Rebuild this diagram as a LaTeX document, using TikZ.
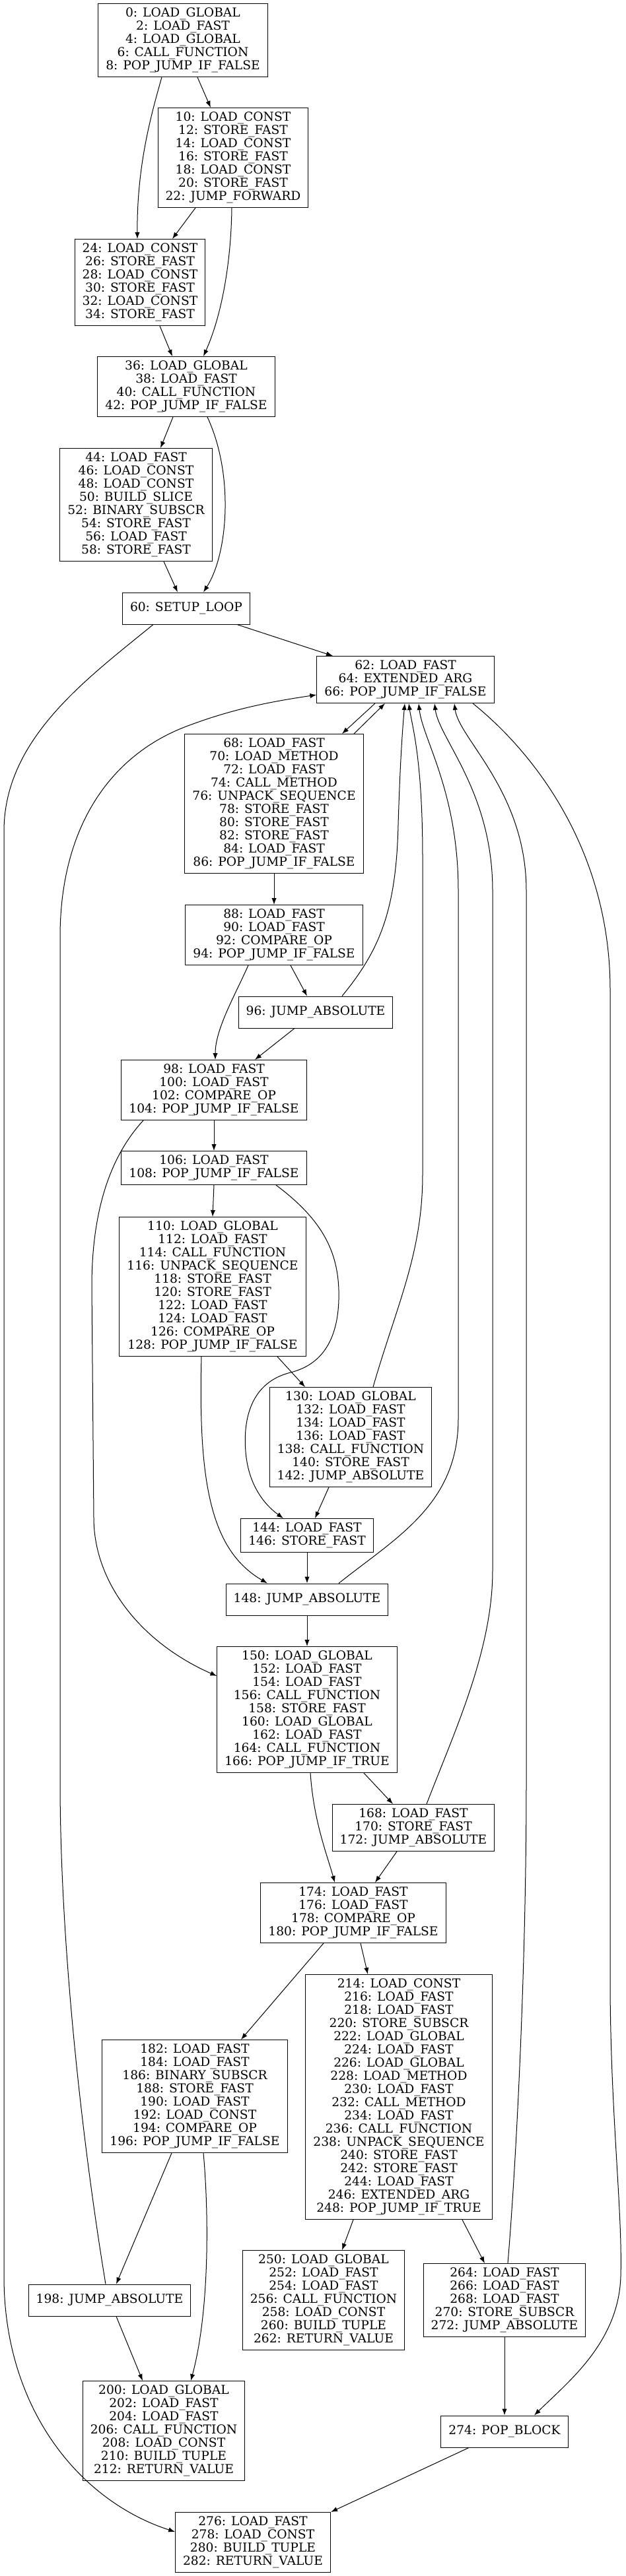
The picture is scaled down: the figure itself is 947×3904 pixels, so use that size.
\documentclass[tikz,border=0pt]{standalone}
\usepackage{fontspec}
\setmainfont{DejaVu Serif}
\usetikzlibrary{arrows.meta,calc}

\begin{document}
\begin{tikzpicture}
		[
		x=0.75pt, y=-0.75pt, line width=0.75pt, font=\fontsize{14}{15}\selectfont, >={Latex[length=7.5pt,width=5.5pt]},
		%Voreinstellung fuer Bloecke
		blk/.style={draw, align=center, inner xsep=8.6pt, inner ysep=2pt, minimum height=36pt},
		nl/.style={minimum height={#1*15pt+8.25pt}}
		]
		
		\useasboundingbox (0,0) rectangle (947,3904);
		
		%Bloecke
		\node [blk, nl=5] (n0) at (277,61) {0: LOAD\_GLOBAL\\2: LOAD\_FAST\\4: LOAD\_GLOBAL\\6: CALL\_FUNCTION\\8: POP\_JUMP\_IF\_FALSE};
		\node [blk, nl=7] (n10) at (353,239) {10: LOAD\_CONST\\12: STORE\_FAST\\14: LOAD\_CONST\\16: STORE\_FAST\\18: LOAD\_CONST\\20: STORE\_FAST\\22: JUMP\_FORWARD};
		\node [blk, nl=6] (n24) at (212,428) {24: LOAD\_CONST\\26: STORE\_FAST\\28: LOAD\_CONST\\30: STORE\_FAST\\32: LOAD\_CONST\\34: STORE\_FAST};
		\node [blk, nl=4] (n36) at (282,586) {36: LOAD\_GLOBAL\\38: LOAD\_FAST\\40: CALL\_FUNCTION\\42: POP\_JUMP\_IF\_FALSE};
		\node [blk, nl=8] (n44) at (206,765) {44: LOAD\_FAST\\46: LOAD\_CONST\\48: LOAD\_CONST\\50: BUILD\_SLICE\\52: BINARY\_SUBSCR\\54: STORE\_FAST\\56: LOAD\_FAST\\58: STORE\_FAST};
		\node [blk] (n60) at (282,922) {60: SETUP\_LOOP};
		\node [blk, nl=3] (n62) at (614,1030) {62: LOAD\_FAST\\64: EXTENDED\_ARG\\66: POP\_JUMP\_IF\_FALSE};
		\node [blk, nl=10] (n68) at (415,1218) {68: LOAD\_FAST\\70: LOAD\_METHOD\\72: LOAD\_FAST\\74: CALL\_METHOD\\76: UNPACK\_SEQUENCE\\78: STORE\_FAST\\80: STORE\_FAST\\82: STORE\_FAST\\84: LOAD\_FAST\\86: POP\_JUMP\_IF\_FALSE};
		\node [blk, nl=4] (n88) at (415,1417) {88: LOAD\_FAST\\90: LOAD\_FAST\\92: COMPARE\_OP\\94: POP\_JUMP\_IF\_FALSE};
		\node [blk] (n96) at (478,1534) {96: JUMP\_ABSOLUTE};
		\node [blk, nl=4] (n98) at (324,1652) {98: LOAD\_FAST\\100: LOAD\_FAST\\102: COMPARE\_OP\\104: POP\_JUMP\_IF\_FALSE};
		\node [blk, nl=2] (n106) at (324,1770) {106: LOAD\_FAST\\108: POP\_JUMP\_IF\_FALSE};
		\node [blk, nl=10] (n110) at (322,1950) {110: LOAD\_GLOBAL\\112: LOAD\_FAST\\114: CALL\_FUNCTION\\116: UNPACK\_SEQUENCE\\118: STORE\_FAST\\120: STORE\_FAST\\122: LOAD\_FAST\\124: LOAD\_FAST\\126: COMPARE\_OP\\128: POP\_JUMP\_IF\_FALSE};
		\node [blk, nl=7] (n130) at (531,2178) {130: LOAD\_GLOBAL\\132: LOAD\_FAST\\134: LOAD\_FAST\\136: LOAD\_FAST\\138: CALL\_FUNCTION\\140: STORE\_FAST\\142: JUMP\_ABSOLUTE};
		\node [blk, nl=2] (n144) at (465,2327) {144: LOAD\_FAST\\146: STORE\_FAST};
		\node [blk] (n148) at (465,2424) {148: JUMP\_ABSOLUTE};
		\node [blk, nl=9] (n150) at (465,2591) {150: LOAD\_GLOBAL\\152: LOAD\_FAST\\154: LOAD\_FAST\\156: CALL\_FUNCTION\\158: STORE\_FAST\\160: LOAD\_GLOBAL\\162: LOAD\_FAST\\164: CALL\_FUNCTION\\166: POP\_JUMP\_IF\_TRUE};
		\node [blk, nl=3] (n168) at (626,2770) {168: LOAD\_FAST\\170: STORE\_FAST\\172: JUMP\_ABSOLUTE};
		\node [blk, nl=4] (n174) at (535,2899) {174: LOAD\_FAST\\176: LOAD\_FAST\\178: COMPARE\_OP\\180: POP\_JUMP\_IF\_FALSE};
		\node [blk, nl=8] (n182) at (295,3177) {182: LOAD\_FAST\\184: LOAD\_FAST\\186: BINARY\_SUBSCR\\188: STORE\_FAST\\190: LOAD\_FAST\\192: LOAD\_CONST\\194: COMPARE\_OP\\196: POP\_JUMP\_IF\_FALSE};
		\node [blk, nl=18] (n214) at (604,3178) {214: LOAD\_CONST\\216: LOAD\_FAST\\218: LOAD\_FAST\\220: STORE\_SUBSCR\\222: LOAD\_GLOBAL\\224: LOAD\_FAST\\226: LOAD\_GLOBAL\\228: LOAD\_METHOD\\230: LOAD\_FAST\\232: CALL\_METHOD\\234: LOAD\_FAST\\236: CALL\_FUNCTION\\238: UNPACK\_SEQUENCE\\240: STORE\_FAST\\242: STORE\_FAST\\244: LOAD\_FAST\\246: EXTENDED\_ARG\\248: POP\_JUMP\_IF\_TRUE};
		\node [blk] (n198) at (166,3486) {198: JUMP\_ABSOLUTE};
		\node [blk, nl=7] (n250) at (490,3486) {250: LOAD\_GLOBAL\\252: LOAD\_FAST\\254: LOAD\_FAST\\256: CALL\_FUNCTION\\258: LOAD\_CONST\\260: BUILD\_TUPLE\\262: RETURN\_VALUE};
		\node [blk, nl=5] (n264) at (764,3486) {264: LOAD\_FAST\\266: LOAD\_FAST\\268: LOAD\_FAST\\270: STORE\_SUBSCR\\272: JUMP\_ABSOLUTE};
		\node [blk, nl=7] (n200) at (248,3684) {200: LOAD\_GLOBAL\\202: LOAD\_FAST\\204: LOAD\_FAST\\206: CALL\_FUNCTION\\208: LOAD\_CONST\\210: BUILD\_TUPLE\\212: RETURN\_VALUE};
		\node [blk] (n274) at (764,3685) {274: POP\_BLOCK};
		\node [blk, nl=4] (n276) at (383,3853) {276: LOAD\_FAST\\278: LOAD\_CONST\\280: BUILD\_TUPLE\\282: RETURN\_VALUE};
		
		%Kanten nach unten
		\draw [->] ($(n0.south)+(22,0)$) -- ($(n10.north)+(-34,0)$);
		\draw [->] ($(n0.south)+(-32,0)$) .. controls (230,170) and (207,250) .. ($(n24.north)+(-4,0)$);
		\draw [->] ($(n10.south)+(-57,0)$) -- ($(n24.north)+(49,0)$);
		\draw [->] ($(n10.south)+(-2,0)$) .. controls (350,400) and (335,480) .. ($(n36.north)+(26,0)$);
		\draw [->] ($(n24.south)+(30,0)$) -- ($(n36.north)+(-21,0)$);
		\draw [->] ($(n36.south)+(-20,0)$) -- ($(n44.north)+(37,0)$);
		\draw [->] ($(n36.south)+(32,0)$) .. controls (355,720) and (345,840) .. ($(n60.north)+(26,0)$);
		\draw [->] ($(n44.south)+(42,0)$) -- ($(n60.north)+(-13,0)$);
		\draw [->] ($(n60.south)+(77,0)$) -- ($(n62.north)+(-110,0)$);
		\draw [->] ($(n60.south)+(-50,0)$) .. controls (130,1030) and (6,1120) .. (6,1260) -- (6,3450) .. controls (6,3650) and (120,3790) .. ($(n276.west)+(0,-16)$);
		\draw [->] ($(n62.south)+(-46,0)$) -- ($(n68.north)+(103,0)$);
		\draw [->] (n68) -- (n88);
		\draw [->] ($(n88.south)+(25,0)$) -- ($(n96.north)+(-13,0)$);
		\draw [->] ($(n88.south)+(-39,0)$) .. controls (355,1510) and (326,1560) .. ($(n98.north)+(2,0)$);
		\draw [->] ($(n96.south)+(-32,0)$) -- ($(n98.north)+(62,0)$);
		\draw [->] (n98) -- (n106);
		\draw [->] ($(n98.south)+(-107,0)$) .. controls (160,1760) and (139,1850) .. (139,1950) -- (142,2300) .. controls (142,2400) and (215,2490) .. ($(n150.west)+(0,-51)$);
		\draw [->] (n106.south) -- (n110.north);
		\draw [->] ($(n106.south)+(94,0)$) .. controls (490,1850) and (515,1900) .. (513,1970) .. controls (511,2040) and (480,2070) .. (440,2080) .. controls (380,2095) and (368,2150) .. (372,2200) .. controls (376,2250) and (400,2280) .. ($(n144.north)+(-36,0)$);
		\draw [->] ($(n110.south)+(98,0)$) -- ($(n130.north)+(-69,0)$);
		\draw [->] ($(n110.south)+(-17,0)$) .. controls (300,2250) and (320,2350) .. ($(n148.north)+(-60,0)$);
		\draw [->] ($(n130.south)+(-33,0)$) -- ($(n144.north)+(12,0)$);
		\draw [->] (n144) -- (n148);
		\draw [->] (n148) -- (n150);
		\draw [->] ($(n150.south)+(86,0)$) -- ($(n168.north)+(-31,0)$);
		\draw [->] ($(n150.south)+(5,0)$) .. controls (475,2760) and (495,2810) .. ($(n174.north)+(-28,0)$);
		\draw [->] ($(n168.south)+(-25,0)$) -- ($(n174.north)+(33,0)$);
		\draw [->] ($(n174.south)+(-45,0)$) -- ($(n182.north)+(70,0)$);
		\draw [->] ($(n174.south)+(11,0)$) -- ($(n214.north)+(-47,0)$);
		\draw [->] ($(n182.south)+(-35,0)$) -- ($(n198.north)+(10,0)$);
		\draw [->] ($(n182.south)+(13,0)$) .. controls (316,3350) and (318,3500) .. ($(n200.north)+(41,0)$);
		\draw [->] ($(n198.south)+(10,0)$) -- ($(n200.north)+(-32,0)$);
		\draw [->] ($(n214.south)+(-69,0)$) -- ($(n250.north)+(28,0)$);
		\draw [->] ($(n214.south)+(96,0)$) -- ($(n264.north)+(-30,0)$);
		\draw [->] (n264) -- (n274);
		\draw [->] ($(n274.south)+(-54,0)$) -- ($(n276.north)+(118,0)$);
		\draw [->] ($(n62.south)+(102,0)$) .. controls (820,1150) and (924,1300) .. (924,1500) -- (924,3000) .. controls (924,3200) and (943,3350) .. (940,3450) .. controls (937,3550) and (860,3610) .. ($(n274.north)+(45,0)$);
		
		%Rueckspruenge zur Schleife
		\draw [->] ($(n68.north)+(121,0)$) -- ($(n62.south)+(-31,0)$);
		\draw [->] ($(n96.north)+(40,0)$) .. controls (575,1440) and (600,1380) .. (603,1250) .. controls (606,1150) and (610,1100) .. ($(n62.south)+(-1,0)$);
		\draw [->] ($(n130.north)+(34,0)$) .. controls (600,1980) and (640,1900) .. (640,1780) -- (640,1300) .. controls (640,1150) and (624,1100) .. ($(n62.south)+(5,0)$);
		\draw [->] ($(n148.north)+(48,0)$) .. controls (600,2330) and (694,2280) .. (694,2150) -- (694,1350) .. controls (694,1200) and (640,1120) .. ($(n62.south)+(20,0)$);
		\draw [->] ($(n168.north)+(20,0)$) .. controls (690,2620) and (746,2500) .. (746,2380) -- (746,1350) .. controls (746,1200) and (665,1120) .. ($(n62.south)+(44,0)$);
		\draw [->] ($(n264.north)+(5,0)$) .. controls (780,3300) and (797,3000) .. (797,2700) -- (797,1350) .. controls (797,1200) and (695,1120) .. ($(n62.south)+(74,0)$);
		\draw [->] ($(n198.north)+(-6,0)$) .. controls (125,3250) and (91,2950) .. (91,2700) -- (91,1420) .. controls (91,1250) and (170,1140) .. (290,1098) .. controls (360,1072) and (420,1062) .. ($(n62.west)+(0,23)$);
	\end{tikzpicture}
\end{document}
